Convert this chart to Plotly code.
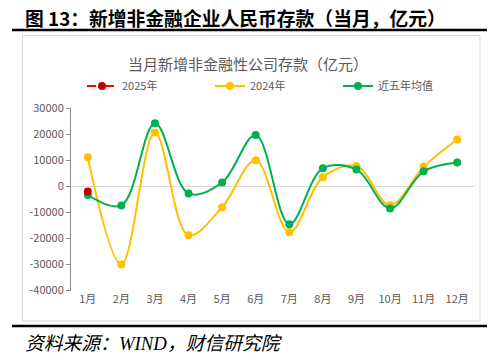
import plotly.graph_objects as go

months = ["1月", "2月", "3月", "4月", "5月", "6月", "7月", "8月", "9月", "10月", "11月", "12月"]
y2025 = [-2000]
y2024 = [11200, -30000, 20700, -18800, -8000, 10000, -17600, 3500, 7800, -7200, 7500, 18000]
avg5 = [-3300, -7300, 24300, -2700, 1500, 19700, -14500, 7000, 6500, -8500, 5800, 9200]
yticks = [30000, 20000, 10000, 0, -10000, -20000, -30000, -40000]

W, H = 500, 364
def px(x):
    return x / W
def py(y):
    return 1 - y / H

font_cjk = "Noto Sans CJK SC, Noto Sans, sans-serif"
gray = "#595959"

fig = go.Figure()
fig.add_trace(go.Scatter(
    x=months, y=y2024, name="2024年", mode="lines+markers", legendrank=2,
    line=dict(color="#FFC000", width=2, shape="spline", smoothing=1.0),
    marker=dict(color="#FFC000", size=8)))
fig.add_trace(go.Scatter(
    x=months, y=avg5, name="近五年均值", mode="lines+markers", legendrank=3,
    line=dict(color="#00B050", width=2, shape="spline", smoothing=1.0),
    marker=dict(color="#00B050", size=8)))
fig.add_trace(go.Scatter(
    x=months[:len(y2025)], y=y2025, name="2025年", mode="lines+markers", legendrank=1,
    line=dict(color="#FF0000", width=2, dash="dash"),
    marker=dict(color="#C00000", size=8)))

fig.update_layout(
    width=W, height=H,
    margin=dict(l=0, r=0, t=0, b=0, autoexpand=False),
    paper_bgcolor="white", plot_bgcolor="white",
    font=dict(family=font_cjk, color=gray, size=11),
    showlegend=True,
    legend=dict(orientation="h", x=px(82), y=py(86), xanchor="left", yanchor="middle",
                entrywidth=83, entrywidthmode="pixels", traceorder="normal",
                font=dict(size=11, color=gray), bgcolor="rgba(0,0,0,0)"),
    xaxis=dict(domain=[px(71), px(474)], type="category", categoryorder="array",
               categoryarray=months, range=[-0.5, 11.5], showline=False, automargin=False,
               showgrid=False, zeroline=False, ticks="", tickfont=dict(size=11, color=gray)),
    yaxis=dict(domain=[py(290.5), py(108.3)], range=[-40000, 30000], tickvals=yticks,
               ticktext=[str(v) for v in yticks], automargin=False,
               showline=True, linecolor="#8c8c8c", linewidth=1, ticks="outside",
               ticklen=4, tickcolor="#8c8c8c", showgrid=False,
               zeroline=True, zerolinecolor="#d9d9d9", zerolinewidth=1,
               tickfont=dict(size=11, color=gray)),
)

shapes = [
    dict(type="line", xref="paper", yref="paper", x0=px(12), x1=px(487), y0=py(30), y1=py(30),
         line=dict(color="black", width=2.5)),
    dict(type="line", xref="paper", yref="paper", x0=px(12), x1=px(487), y0=py(326), y1=py(326),
         line=dict(color="black", width=2.5)),
    dict(type="rect", xref="paper", yref="paper", x0=px(22.5), x1=px(480), y0=py(321), y1=py(35.5),
         line=dict(color="#d9d9d9", width=1), layer="below"),
]
fig.update_layout(shapes=shapes)

fig.add_annotation(text="<b>图 13：新增非金融企业人民币存款（当月，亿元）</b>", xref="paper", yref="paper",
                   x=px(23), y=py(17), xanchor="left", yanchor="middle", showarrow=False,
                   font=dict(family=font_cjk, size=18.8, color="black"))
fig.add_annotation(text="当月新增非金融性公司存款（亿元）", xref="paper", yref="paper",
                   x=px(248), y=py(63), xanchor="center", yanchor="middle", showarrow=False,
                   font=dict(family=font_cjk, size=15, color=gray))
fig.add_annotation(text="<i>资料来源：WIND，财信研究院</i>", xref="paper", yref="paper",
                   x=px(23), y=py(343), xanchor="left", yanchor="middle", showarrow=False,
                   font=dict(family="Liberation Serif, Noto Sans CJK SC, serif", size=18.8, color="black"))

fig.write_html("out.html", config={"displayModeBar": False},
               post_script="document.body.style.margin='0';document.body.style.padding='0';")
